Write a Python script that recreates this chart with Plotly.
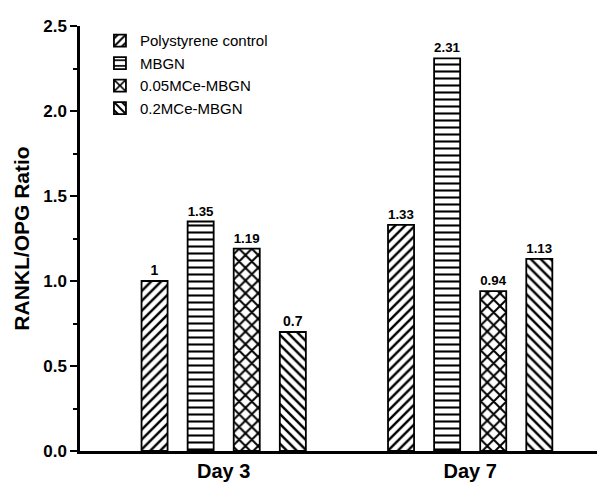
import plotly.graph_objects as go

days = ["Day 3", "Day 7"]
day_pos = [0, 1]
series = ["Polystyrene control", "MBGN", "0.05MCe-MBGN", "0.2MCe-MBGN"]
values = {
    "Polystyrene control": [1, 1.33],
    "MBGN": [1.35, 2.31],
    "0.05MCe-MBGN": [1.19, 0.94],
    "0.2MCe-MBGN": [0.7, 1.13],
}
labels = {
    "Polystyrene control": ["1", "1.33"],
    "MBGN": ["1.35", "2.31"],
    "0.05MCe-MBGN": ["1.19", "0.94"],
    "0.2MCe-MBGN": ["0.7", "1.13"],
}
shapes = {"Polystyrene control": "/", "MBGN": "-", "0.05MCe-MBGN": "x", "0.2MCe-MBGN": "\\"}
psize = {"Polystyrene control": 7, "MBGN": 7, "0.05MCe-MBGN": 9, "0.2MCe-MBGN": 7}
psolid = {"Polystyrene control": 0.35, "MBGN": 0.3, "0.05MCe-MBGN": 0.4, "0.2MCe-MBGN": 0.35}

fig = go.Figure()
for s in series:
    fig.add_trace(go.Bar(
        x=day_pos, y=values[s], name=s,
        text=labels[s], textposition="outside",
        textfont=dict(family="Liberation Sans", size=14, color="black", weight="bold"),
        cliponaxis=False,
        marker=dict(color="white",
                    line=dict(color="black", width=1.8),
                    pattern=dict(shape=shapes[s], fgcolor="black", bgcolor="white",
                                 size=psize[s], solidity=psolid[s], fgopacity=1)),
    ))

fig.update_layout(
    width=597, height=474,
    margin=dict(l=72, r=0, t=18, b=27),
    paper_bgcolor="white", plot_bgcolor="white",
    barmode="group", bargap=0.252, bargroupgap=0.435,
    font=dict(family="Liberation Sans", color="black"),
    showlegend=True,
    legend=dict(x=0.038, y=1.004, xanchor="left", yanchor="top",
                font=dict(size=15, family="Liberation Sans"),
                bgcolor="rgba(0,0,0,0)", tracegroupgap=0, itemwidth=30),
    xaxis=dict(range=[-0.583, 1.547], tickvals=day_pos, ticktext=days,
               showline=True, linecolor="black", linewidth=2.5, ticks="",
               showgrid=False, zeroline=False,
               tickfont=dict(size=20, family="Liberation Sans", weight="bold")),
    yaxis=dict(range=[0, 2.5], tickvals=[0, 0.5, 1.0, 1.5, 2.0, 2.5],
               ticktext=["0.0", "0.5", "1.0", "1.5", "2.0", "2.5"],
               showline=True, linecolor="black", linewidth=2.5,
               ticks="outside", ticklen=7, tickwidth=2, tickcolor="black",
               minor=dict(dtick=0.25, ticks="outside", ticklen=4, tickwidth=2, tickcolor="black", showgrid=False),
               showgrid=False, zeroline=False,
               tickfont=dict(size=17, family="Liberation Sans", weight="bold"),
               title=dict(text="RANKL/OPG Ratio", standoff=8,
                          font=dict(size=21, family="Liberation Sans", weight="bold"))),
)

fig.write_html("out.html")
